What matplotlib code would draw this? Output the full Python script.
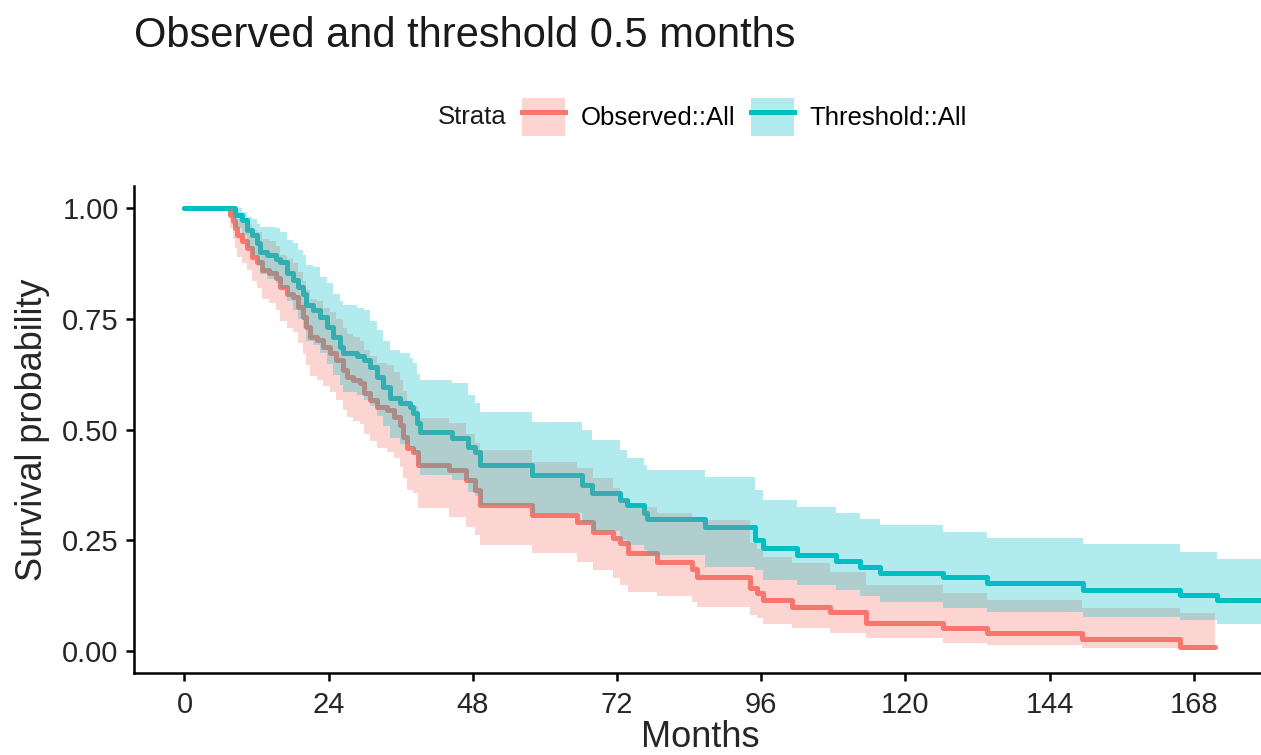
import numpy as np
import matplotlib
matplotlib.use('Agg')
import matplotlib.pyplot as plt
from matplotlib.patches import Patch
from matplotlib.lines import Line2D
from matplotlib.legend_handler import HandlerTuple

plt.rcParams['font.family'] = ['Liberation Sans', 'DejaVu Sans']

# Kaplan-Meier estimates (months, survival, 95% CI)
obs_time = [0, 7.6, 8.0, 8.4, 8.8, 9.6, 10.4, 11.2, 12.0, 12.9, 14.0, 15.3, 15.9, 17.0, 18.1, 18.9,
            19.8, 20.3, 20.9, 22.0, 23.1, 24.2, 25.3, 26.4, 27.0, 28.1, 29.2, 29.8, 30.9, 32.0,
            33.7, 34.8, 35.9, 36.4, 37.0, 38.1, 38.9, 44.1, 46.9, 48.3, 49.2, 57.8, 65.3, 68.0,
            71.4, 72.5, 73.9, 78.6, 84.4, 85.3, 94.1, 95.3, 96.3, 101.1, 107.4, 113.5, 126.3,
            133.5, 149.4, 165.7]
obs_surv = [1.0, 0.985, 0.970, 0.955, 0.940, 0.925, 0.909, 0.890, 0.879, 0.860, 0.853, 0.841, 0.822,
            0.807, 0.800, 0.777, 0.755, 0.732, 0.709, 0.702, 0.687, 0.672, 0.657, 0.634, 0.619,
            0.612, 0.604, 0.582, 0.567, 0.551, 0.544, 0.529, 0.510, 0.484, 0.458, 0.450, 0.420,
            0.409, 0.386, 0.363, 0.330, 0.307, 0.292, 0.269, 0.254, 0.243, 0.221, 0.202, 0.185,
            0.168, 0.142, 0.131, 0.115, 0.100, 0.089, 0.064, 0.051, 0.040, 0.026, 0.010]
obs_lower = [1.0, 0.955, 0.930, 0.910, 0.890, 0.875, 0.860, 0.835, 0.820, 0.795, 0.785, 0.770, 0.745,
             0.730, 0.720, 0.695, 0.670, 0.645, 0.620, 0.612, 0.598, 0.585, 0.567, 0.545, 0.528,
             0.520, 0.512, 0.490, 0.475, 0.458, 0.450, 0.435, 0.415, 0.390, 0.363, 0.356, 0.322,
             0.303, 0.281, 0.262, 0.239, 0.221, 0.202, 0.183, 0.164, 0.149, 0.134, 0.123, 0.110,
             0.100, 0.081, 0.075, 0.062, 0.051, 0.040, 0.029, 0.017, 0.014, 0.006, 0.002]
obs_upper = [1.0, 1.0, 0.995, 0.985, 0.975, 0.968, 0.965, 0.950, 0.945, 0.930, 0.925, 0.915, 0.895,
             0.885, 0.875, 0.855, 0.835, 0.815, 0.795, 0.790, 0.775, 0.765, 0.750, 0.730, 0.715,
             0.708, 0.700, 0.680, 0.665, 0.650, 0.645, 0.630, 0.612, 0.587, 0.560, 0.553, 0.525,
             0.515, 0.490, 0.470, 0.454, 0.427, 0.412, 0.390, 0.367, 0.345, 0.326, 0.311, 0.300,
             0.296, 0.243, 0.230, 0.213, 0.198, 0.179, 0.149, 0.130, 0.115, 0.096, 0.085]
obs_end = 171.5

thr_time = [0, 8.4, 9.5, 10.4, 11.2, 12.0, 12.6, 13.7, 15.3, 15.9, 17.0, 18.1, 18.9, 19.8, 20.3,
            21.4, 22.6, 23.7, 24.8, 25.9, 26.4, 28.7, 29.8, 30.9, 32.0, 33.1, 34.2, 35.9, 37.5,
            38.0, 38.7, 39.2, 44.5, 47.2, 48.3, 49.2, 57.8, 66.1, 67.8, 72.5, 73.6, 76.4, 76.9,
            86.7, 94.9, 96.3, 101.9, 108.5, 112.4, 115.8, 126.3, 133.5, 149.6, 165.7, 171.8]
thr_surv = [1.0, 0.985, 0.973, 0.950, 0.939, 0.920, 0.901, 0.894, 0.886, 0.879, 0.853, 0.837, 0.822,
            0.807, 0.781, 0.770, 0.755, 0.732, 0.709, 0.687, 0.672, 0.665, 0.657, 0.642, 0.619,
            0.597, 0.570, 0.559, 0.551, 0.537, 0.514, 0.495, 0.480, 0.461, 0.450, 0.420, 0.397,
            0.375, 0.356, 0.341, 0.330, 0.311, 0.298, 0.281, 0.250, 0.232, 0.217, 0.204, 0.190,
            0.177, 0.166, 0.153, 0.138, 0.126, 0.115]
thr_lower = [1.0, 0.955, 0.940, 0.910, 0.895, 0.870, 0.850, 0.840, 0.830, 0.820, 0.790, 0.770, 0.750,
             0.730, 0.700, 0.690, 0.672, 0.648, 0.622, 0.600, 0.585, 0.577, 0.567, 0.552, 0.530,
             0.508, 0.480, 0.468, 0.460, 0.445, 0.420, 0.397, 0.386, 0.360, 0.350, 0.330, 0.311,
             0.288, 0.270, 0.251, 0.240, 0.228, 0.217, 0.190, 0.183, 0.160, 0.149, 0.138, 0.123,
             0.111, 0.096, 0.089, 0.077, 0.070, 0.061]
thr_upper = [1.0, 1.0, 0.990, 0.980, 0.975, 0.965, 0.958, 0.958, 0.954, 0.945, 0.928, 0.920, 0.905,
             0.894, 0.871, 0.867, 0.845, 0.830, 0.807, 0.790, 0.781, 0.775, 0.770, 0.745, 0.725,
             0.700, 0.680, 0.672, 0.662, 0.650, 0.625, 0.612, 0.605, 0.578, 0.560, 0.540, 0.518,
             0.500, 0.476, 0.454, 0.435, 0.420, 0.409, 0.393, 0.363, 0.341, 0.326, 0.311, 0.297,
             0.284, 0.269, 0.256, 0.242, 0.223, 0.208]
thr_end = 182

labels = ['Observed::All', 'Threshold::All']
colors = ['#F8766D', '#00BFC4']
x_ticks = [0, 24, 48, 72, 96, 120, 144, 168]
y_ticks = [0.0, 0.25, 0.5, 0.75, 1.0]
y_ticklabels = ['0.00', '0.25', '0.50', '0.75', '1.00']

W, H = 1261, 755
fig = plt.figure(figsize=(W / 100, H / 100), dpi=100)
ax = fig.add_axes([134 / W, 1 - 673 / H, (1266 - 134) / W, (673 - 186) / H])

curves = [(obs_time, obs_surv, obs_lower, obs_upper, obs_end),
          (thr_time, thr_surv, thr_lower, thr_upper, thr_end)]

# lines go under the ribbons, like ggsurvplot does
for (t, s, lo, up, end), c in zip(curves, colors):
    tt = np.append(t, end)
    ax.step(tt, np.append(s, s[-1]), where='post', color=c, lw=3.6, zorder=2,
            solid_capstyle='round')
for (t, s, lo, up, end), c in zip(curves, colors):
    tt = np.append(t, end)
    ax.fill_between(tt, np.append(lo, lo[-1]), np.append(up, up[-1]), step='post',
                    color=c, alpha=0.3, lw=0, zorder=3)

ax.set_xlim(-8.4, 180.0)
ax.set_ylim(-0.0497, 1.0497)
ax.set_xticks(x_ticks)
ax.set_yticks(y_ticks)
ax.set_yticklabels(y_ticklabels)
for side in ['top', 'right']:
    ax.spines[side].set_visible(False)
for side in ['left', 'bottom']:
    ax.spines[side].set_linewidth(1.8)
    ax.spines[side].set_color('black')
ax.tick_params(axis='both', length=6, width=1.8, color='black', labelsize=21,
               labelcolor='#262626')
ax.tick_params(axis='x', pad=7)
ax.tick_params(axis='y', pad=5)

ax.set_xlabel('Months', fontsize=26, color='#262626')
ax.set_ylabel('Survival probability', fontsize=26, color='#262626')
ax.xaxis.set_label_coords(0.5, -0.097)
ax.yaxis.set_label_coords(-0.074, 0.5)

fig.text(134 / W, 1 - 36 / H, 'Observed and threshold 0.5 months', fontsize=30,
         ha='left', va='center', color='#1a1a1a')

# legend: "Strata" then the two keys in a row
fig.text(438 / W, 1 - 117 / H, 'Strata', fontsize=18.5, ha='left', va='center', color='#1a1a1a')
handles = [(Patch(facecolor=c, alpha=0.3, lw=0), Line2D([], [], color=c, lw=3.6)) for c in colors]
ax.legend(handles, labels, handler_map={tuple: HandlerTuple(ndivide=1)},
          loc='center left', bbox_to_anchor=(522 / W, 1 - 117 / H), bbox_transform=fig.transFigure,
          ncol=2, frameon=False, fontsize=18.5, handlelength=1.67, handleheight=1.87,
          handletextpad=0.6, columnspacing=0.62, borderpad=0, borderaxespad=0)

fig.savefig('out.png', dpi=100)
